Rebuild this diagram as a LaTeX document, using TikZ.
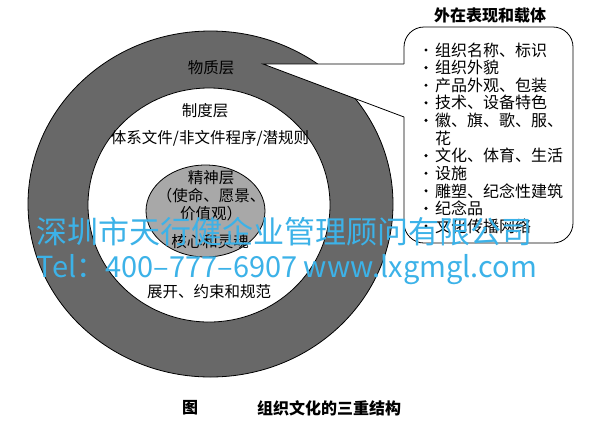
\documentclass[tikz,border=0pt]{standalone}
\usepackage{fontspec}
\setmainfont{Noto Sans CJK SC}
\usetikzlibrary{shapes.geometric}
\definecolor{ringgray}{RGB}{104,104,104}
\definecolor{coregray}{RGB}{168,168,168}
\definecolor{markblue}{RGB}{60,178,232}
\tikzset{
  layer/.style={ellipse,draw,line width=0.8pt,inner sep=0pt},
  layertext/.style={font=\fontsize{15.5}{17}\selectfont,inner sep=0pt},
  item/.style={anchor=west,font=\fontsize{16}{17}\selectfont,inner sep=0pt},
  dot/.style={circle,fill,inner sep=1.2pt},
  watermark/.style={text=markblue,inner sep=0pt,anchor=base}
}

\begin{document}
\begin{tikzpicture}[x=1pt,y=-1pt]
  \useasboundingbox (0,0) rectangle (599,424);
  % the three layers
  \node[layer,fill=ringgray,minimum width=365pt,minimum height=346pt] (outer) at (210.5,204) {};
  \node[layer,fill=white,minimum width=242pt,minimum height=234pt] (middle) at (209,205) {};
  \node[layer,fill=coregray,minimum width=119pt,minimum height=92pt] (inner) at (205.5,211) {};

  \node[layertext] (wuzhi) at (211,68) {物质层};
  \node[layertext] (zhidu) at (205,111) {制度层};
  \node[layertext] (tixi) at (210,138) {体系文件/非文件程序/潜规则};
  \node[layertext] (jingshen) at (211,178) {精神层};
  \node[layertext] (shiming) at (211,196) {（使命、愿景、};
  \node[layertext] (jiazhi) at (211,214) {价值观）};
  \node[layertext] (hexin) at (210,242) {核心和灵魂};
  \node[layertext] (zhankai) at (209,292) {展开、约束和规范};

  % callout
  \node[font=\bfseries\fontsize{16}{16}\selectfont,inner sep=0pt] (title) at (490,15) {外在表现和载体};
  \node[draw,line width=0.8pt,rounded corners=20pt,minimum width=169pt,minimum height=216pt] (bubble) at (488.5,135) {};
  \coordinate (tip) at (263,64);
  \coordinate (pintop) at (404,64);
  \coordinate (pinbot) at (404,117);
  \fill[white] (tip) -- ([xshift=1pt]pintop) -- ([xshift=1pt]pinbot) -- cycle;
  \draw[line width=0.8pt] (pintop) -- (tip) -- (pinbot);

  \foreach \txt/\dotted [count=\i] in {组织名称、标识/1,组织外貌/1,产品外观、包装/1,技术、设备特色/1,徽、旗、歌、服、/1,花/0,文化、体育、生活/1,设施/1,雕塑、纪念性建筑/1,纪念品/1,文化传播网络/1}{
    \node[item] (item\i) at (435,50+17.6*\i-17.6) {\txt};
    \ifnum\dotted=1
      \node[dot] (dot\i) at (426,50+17.6*\i-17.6) {};
    \fi
  }

  % caption
  \node[font=\bfseries\fontsize{16}{16}\selectfont,inner sep=0pt] (fig) at (190,408) {图};
  \node[font=\bfseries\fontsize{16}{16}\selectfont,inner sep=0pt,anchor=west] (caption) at (257,408) {组织文化的三重结构};

  % watermark
  \node[watermark,font=\fontsize{31}{31}\selectfont] (wmname) at (284.5,243) {深圳市天行健企业管理顾问有限公司};
  \node[watermark,font=\fontsize{29}{29}\selectfont] (wmtel) at (287,277) {Tel：400–777–6907 www.lxgmgl.com};
\end{tikzpicture}
\end{document}
